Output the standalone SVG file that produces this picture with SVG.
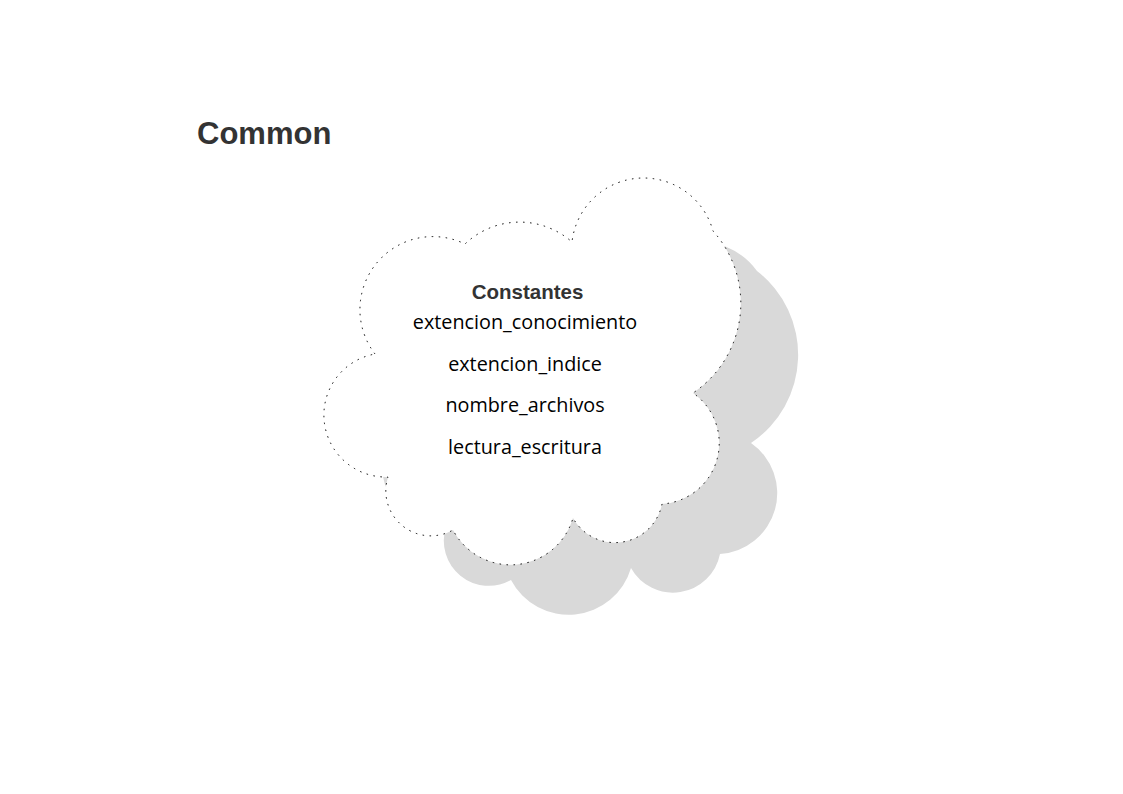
<svg xmlns="http://www.w3.org/2000/svg" width="1123" height="794" viewBox="0 0 1123 794">
  <defs>
    <style>
      .title { font-family: "Liberation Sans", Arial, sans-serif; font-weight: bold; font-size: 31px; fill: #333333; }
      .head { font-family: "Liberation Sans", Arial, sans-serif; font-weight: bold; font-size: 20.5px; fill: #333333; text-anchor: middle; }
      .item { font-family: "Open Sans", "Noto Sans", sans-serif; font-size: 19.8px; fill: #000000; text-anchor: middle; }
      .shadow { fill: #d9d9d9; stroke: none; }
      .cloud { fill: #ffffff; stroke: #000000; stroke-width: 1; stroke-dasharray: 1.5 5.5; }
    </style>
  </defs>
  <rect x="0" y="0" width="1123" height="794" fill="#ffffff"/>
  <text class="title" x="197" y="144">Common</text>
  <g id="connectors"></g>
  <g id="node-constantes">
    <path class="shadow" d="M 433 404 A 73 73 0 0 1 523 294 A 79 79 0 0 1 630 292 A 72 72 0 0 1 757 271 A 106 106 0 0 1 751 443 A 61 61 0 0 1 720 554 A 48 48 0 0 1 631 568 A 65 65 0 0 1 511 580 A 45 45 0 0 1 446 527 A 62 62 0 0 1 433 404 Z"/>
    <path class="cloud" d="M 375 354 A 73 73 0 0 1 465 244 A 79 79 0 0 1 572 242 A 72 72 0 0 1 713 231 A 108 108 0 0 1 693 393 A 61 61 0 0 1 662 504 A 48 48 0 0 1 573 518 A 65 65 0 0 1 453 530 A 45 45 0 0 1 388 477 A 62 62 0 0 1 375 354 Z"/>
    <text class="head" x="527.5" y="299">Constantes</text>
    <text class="item" x="525" y="329">extencion_conocimiento</text>
    <text class="item" x="525" y="370.5">extencion_indice</text>
    <text class="item" x="525" y="412">nombre_archivos</text>
    <text class="item" x="525" y="453.5">lectura_escritura</text>
  </g>
</svg>
